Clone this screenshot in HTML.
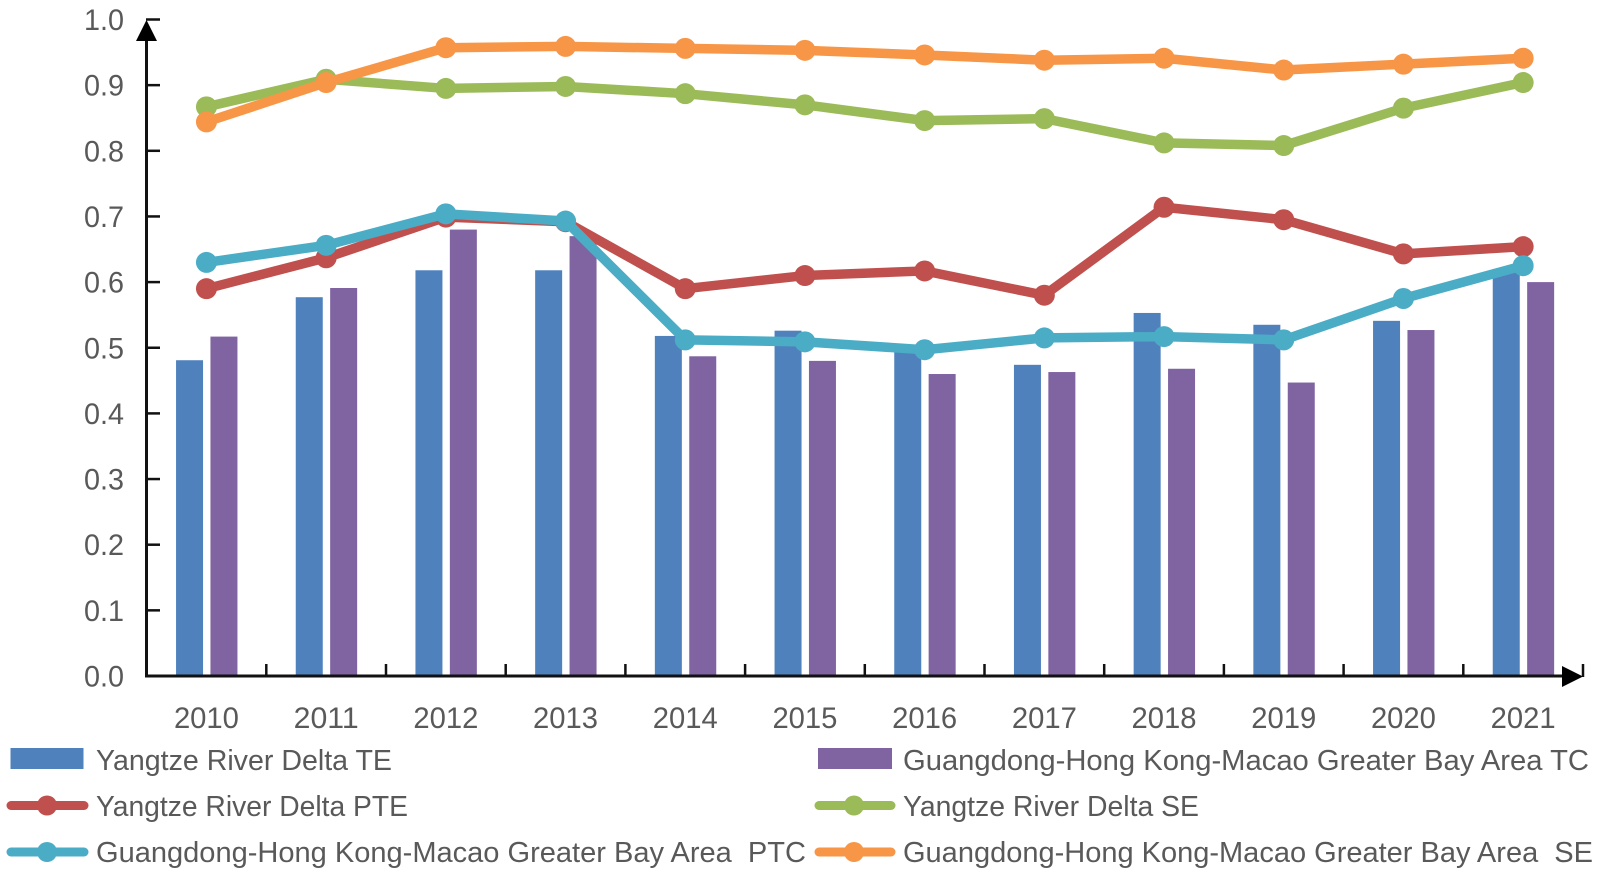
<!DOCTYPE html>
<html lang="en">
<head>
<meta charset="utf-8">
<title>Yangtze River Delta and Greater Bay Area efficiency, 2010-2021</title>
<style>
html,body{margin:0;padding:0;background:#fff;width:1600px;height:875px;overflow:hidden}
svg{display:block}
text{font-family:"Liberation Sans",sans-serif;fill:#595959;white-space:pre}
</style>
</head>
<body>
<svg id="chart" width="1600" height="875" viewBox="0 0 1600 875" xmlns="http://www.w3.org/2000/svg">
  <g id="bars"></g>
  <g id="axes">
    <line x1="146.5" y1="36" x2="146.5" y2="677.5" stroke="#111" stroke-width="3"/>
    <line x1="145" y1="676" x2="1566" y2="676" stroke="#111" stroke-width="3"/>
    <polygon points="146.5,20 136,41 157,41" fill="#000"/>
    <polygon points="1583,676.5 1562,666 1562,687" fill="#000"/>
  </g>
  <g id="lines"></g>
  <g id="legend" font-size="29">
    <g>
      <rect x="10.5" y="748" width="73" height="21" fill="#4f81bd"/>
      <text x="96" y="770" textLength="296" lengthAdjust="spacingAndGlyphs">Yangtze River Delta TE</text>
    </g>
    <g>
      <rect x="818" y="748" width="74" height="21" fill="#8064a2"/>
      <text x="903" y="770" textLength="686" lengthAdjust="spacingAndGlyphs">Guangdong-Hong Kong-Macao Greater Bay Area TC</text>
    </g>
    <g>
      <line x1="11" y1="805.5" x2="84" y2="805.5" stroke="#c0504d" stroke-width="9" stroke-linecap="round"/>
      <circle cx="47" cy="805.5" r="10" fill="#c0504d"/>
      <text x="96" y="816" textLength="312" lengthAdjust="spacingAndGlyphs">Yangtze River Delta PTE</text>
    </g>
    <g>
      <line x1="819" y1="805.5" x2="891" y2="805.5" stroke="#9bbb59" stroke-width="9" stroke-linecap="round"/>
      <circle cx="854" cy="805.5" r="10" fill="#9bbb59"/>
      <text x="903" y="816" textLength="296" lengthAdjust="spacingAndGlyphs">Yangtze River Delta SE</text>
    </g>
    <g>
      <line x1="11" y1="852" x2="84" y2="852" stroke="#4bacc6" stroke-width="9" stroke-linecap="round"/>
      <circle cx="47" cy="852" r="10" fill="#4bacc6"/>
      <text x="96" y="862" textLength="710" lengthAdjust="spacingAndGlyphs" xml:space="preserve">Guangdong-Hong Kong-Macao Greater Bay Area  PTC</text>
    </g>
    <g>
      <line x1="819" y1="852" x2="891" y2="852" stroke="#f79646" stroke-width="9" stroke-linecap="round"/>
      <circle cx="854" cy="852" r="10" fill="#f79646"/>
      <text x="903" y="862" textLength="690" lengthAdjust="spacingAndGlyphs" xml:space="preserve">Guangdong-Hong Kong-Macao Greater Bay Area  SE</text>
    </g>
  </g>
</svg>
<script>
const categories = ['2010','2011','2012','2013','2014','2015','2016','2017','2018','2019','2020','2021'];
const yTickLabels = ['0.0','0.1','0.2','0.3','0.4','0.5','0.6','0.7','0.8','0.9','1.0'];
const yTickValues = [0,0.1,0.2,0.3,0.4,0.5,0.6,0.7,0.8,0.9,1.0];
const yrdTE  = [0.481,0.577,0.618,0.618,0.518,0.526,0.500,0.474,0.553,0.535,0.541,0.620];
const gbaTC  = [0.517,0.591,0.680,0.670,0.487,0.480,0.460,0.463,0.468,0.447,0.527,0.600];
const yrdPTE = [0.590,0.637,0.699,0.692,0.590,0.610,0.617,0.580,0.714,0.695,0.643,0.654];
const yrdSE  = [0.867,0.909,0.895,0.898,0.887,0.870,0.846,0.849,0.812,0.808,0.865,0.904];
const gbaPTC = [0.630,0.656,0.704,0.693,0.512,0.509,0.497,0.515,0.517,0.512,0.575,0.625];
const gbaSE  = [0.844,0.904,0.957,0.959,0.956,0.953,0.946,0.938,0.941,0.923,0.932,0.941];

const NS = 'http://www.w3.org/2000/svg';
const X_LEFT = 146.6, BAND = 119.7, Y_ZERO = 676, Y_UNIT = 656.5;
const xBand = function (i) { return X_LEFT + BAND * (i + 0.5); };
const xEdge = function (i) { return X_LEFT + BAND * i; };
const yScale = function (v) { return Y_ZERO - v * Y_UNIT; };
const make = function (tag, attrs, parent) {
  const el = document.createElementNS(NS, tag);
  Object.keys(attrs).forEach(function (k) { el.setAttribute(k, attrs[k]); });
  parent.appendChild(el);
  return el;
};

const barsG = document.getElementById('bars');
const axesG = document.getElementById('axes');
const linesG = document.getElementById('lines');

categories.forEach(function (cat, i) {
  const teBar = make('rect', {x: xBand(i) - 30.4, y: yScale(yrdTE[i]), width: 27, height: Y_ZERO - yScale(yrdTE[i]), fill: '#4f81bd'}, barsG);
  
  
  const tcBar = make('rect', {x: xBand(i) + 4, y: yScale(gbaTC[i]), width: 27, height: Y_ZERO - yScale(gbaTC[i]), fill: '#8064a2'}, barsG);
  
  
  const label = make('text', {x: xBand(i) - 32.5, y: 728, 'font-size': 29.5, textLength: 65, lengthAdjust: 'spacingAndGlyphs'}, axesG);
  
  
  label.textContent = cat;
});

for (let i = 1; i <= categories.length; i++) {
  const xTick = make('line', {x1: xEdge(i), x2: xEdge(i), y1: 664, y2: 677, stroke: '#111', 'stroke-width': 2.5}, axesG);
  
  
}

yTickValues.forEach(function (v, i) {
  const yTick = make('line', {x1: 146, x2: 160, y1: yScale(v), y2: yScale(v), stroke: '#111', 'stroke-width': 2.5}, axesG);
  
  
  const label = make('text', {x: 84, y: yScale(v) + 10.5, 'font-size': 29.5, textLength: 40, lengthAdjust: 'spacingAndGlyphs'}, axesG);
  
  
  label.textContent = yTickLabels[i];
});

const drawSeries = function (values, color, name) {
  const g = make('g', {}, linesG);
  
  
  const pts = values.map(function (v, i) { return xBand(i) + ',' + yScale(v); }).join(' ');
  const line = make('polyline', {points: pts, fill: 'none', stroke: color, 'stroke-width': 9.5, 'stroke-linejoin': 'round'}, g);
  
  
  values.forEach(function (v, i) {
    const dot = make('circle', {cx: xBand(i), cy: yScale(v), r: 10.5, fill: color}, g);
    
    
  });
};
drawSeries(yrdPTE, '#c0504d', 'yrd-pte');
drawSeries(yrdSE, '#9bbb59', 'yrd-se');
drawSeries(gbaPTC, '#4bacc6', 'gba-ptc');
drawSeries(gbaSE, '#f79646', 'gba-se');
</script>
</body>
</html>
